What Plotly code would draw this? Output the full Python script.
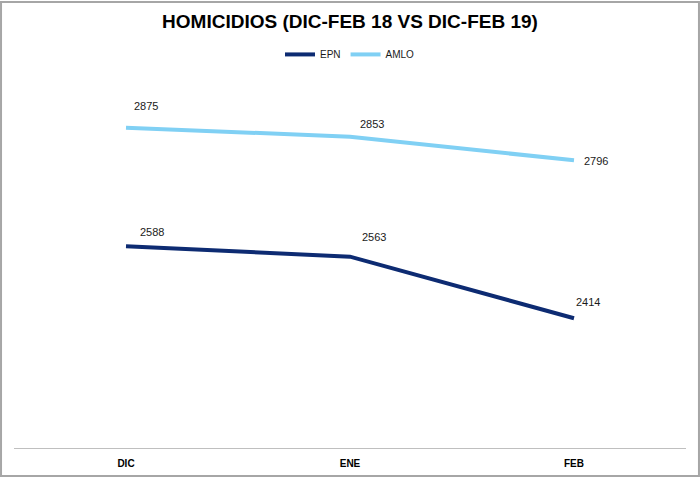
import plotly.graph_objects as go

months = ["DIC", "ENE", "FEB"]
epn = [2588, 2563, 2414]
amlo = [2875, 2853, 2796]

# label offsets (px) for each point
epn_shift = [(26, 14), (24, 20), (14, 16)]
amlo_shift = [(20, 22), (22, 13), (22, -1)]

fig = go.Figure()
fig.add_trace(go.Scatter(x=months, y=epn, name="EPN", mode="lines",
                         line=dict(color="#0d2b72", width=4)))
fig.add_trace(go.Scatter(x=months, y=amlo, name="AMLO", mode="lines",
                         line=dict(color="#80d0f4", width=4)))

for series, shifts in ((epn, epn_shift), (amlo, amlo_shift)):
    for m, v, (dx, dy) in zip(months, series, shifts):
        fig.add_annotation(x=m, y=v, text=str(v), showarrow=False,
                           xshift=dx, yshift=dy,
                           font=dict(family="Liberation Sans", size=11, color="#1a1a1a"))

fig.add_shape(type="rect", xref="paper", yref="paper",
              x0=-0.0193, x1=1.0193, y0=-0.0753, y1=1.199,
              line=dict(color="#a6a6a6", width=2), layer="below")

fig.update_layout(
    width=700, height=477,
    margin=dict(l=14, r=14, t=76, b=29, autoexpand=False),
    paper_bgcolor="white", plot_bgcolor="white",
    title=dict(text="<b>HOMICIDIOS (DIC-FEB 18 VS DIC-FEB 19)</b>",
               x=0.5, xanchor="center", y=0.955, yanchor="middle",
               font=dict(family="Liberation Sans", size=19, color="black")),
    legend=dict(orientation="h", x=0.5, xanchor="center", y=1.058, yanchor="middle",
                font=dict(family="Liberation Sans", size=10, color="#1a1a1a"),
                itemwidth=30, tracegroupgap=0),
    xaxis=dict(range=[-0.5, 2.5], showgrid=False, showline=True, linecolor="#bfbfbf",
               linewidth=1, ticks="", zeroline=False, ticklabelstandoff=6,
               tickfont=dict(family="Liberation Sans", size=10, color="black"),
               tickprefix="<b>", ticksuffix="</b>"),
    yaxis=dict(range=[2100, 3000], visible=False),
    showlegend=True,
)

fig.write_html("out.html", config={"displayModeBar": False},
               post_script="document.body.style.margin='0';document.body.style.overflow='hidden';")
